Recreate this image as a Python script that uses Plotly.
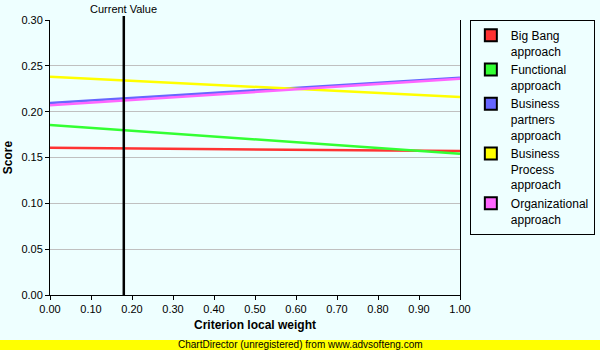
import plotly.graph_objects as go

weights = [0.0, 1.0]
series_names = ["Big Bang<br>approach", "Functional<br>approach", "Business<br>partners<br>approach",
                "Business<br>Process<br>approach", "Organizational<br>approach"]
big_bang = [0.1605, 0.1570]
functional = [0.1855, 0.1540]
business_partners = [0.2095, 0.2370]
business_process = [0.2380, 0.2160]
organizational = [0.2070, 0.2360]
colors = ["#FF3333", "#33FF33", "#6666FF", "#FFFF00", "#FF66FF"]
current_value = 0.18

all_series = [big_bang, functional, business_partners, business_process, organizational]

BG = "#EEFFFF"
fig = go.Figure()
for name, vals, c in zip(series_names, all_series, colors):
    fig.add_trace(go.Scatter(x=weights, y=vals, mode="lines", line=dict(color=c, width=2.5),
                             showlegend=False, hoverinfo="skip"))
for name, c in zip(series_names, colors):
    fig.add_trace(go.Scatter(x=[None], y=[None], mode="markers", name=name,
                             marker=dict(symbol="square", size=10, color=c,
                                         line=dict(color="black", width=1))))
fig.add_trace(go.Scatter(x=[None], y=[None], yaxis="y2", showlegend=False))

fig.add_shape(type="line", xref="x", yref="paper", x0=current_value, x1=current_value,
              y0=0, y1=1.015, line=dict(color="black", width=2.5))
fig.add_annotation(x=current_value, xref="x", y=1.04, yref="paper", text="Current Value",
                   showarrow=False, font=dict(size=11, color="black"), yanchor="middle")
fig.add_shape(type="rect", xref="paper", yref="paper", x0=-0.2, x1=1.5, y0=-0.2, y1=-0.1636,
              fillcolor="#FFFF00", line=dict(width=0), layer="above")
fig.add_annotation(x=0.6098, xref="paper", y=-0.1818, yref="paper", yanchor="middle",
                   text="ChartDirector (unregistered) from www.advsofteng.com",
                   showarrow=False, font=dict(size=10, color="black"))

fig.update_layout(
    width=600, height=350,
    margin=dict(l=50, r=140, t=20, b=55, autoexpand=False),
    paper_bgcolor=BG, plot_bgcolor=BG,
    font=dict(family="Liberation Sans, Arial, sans-serif", size=11, color="black"),
    xaxis=dict(range=[0, 1], tickvals=[i / 10 for i in range(11)], tickformat=".2f",
               showgrid=False, zeroline=False, showline=True, linecolor="black", linewidth=1,
               mirror=False, ticks="outside", ticklen=4, tickcolor="black",
               title=dict(text="<b>Criterion local weight</b>", font=dict(size=12), standoff=6)),
    yaxis=dict(range=[0, 0.30], dtick=0.05, tickformat=".2f",
               showgrid=True, gridcolor="#C0C0C0", gridwidth=1, zeroline=False,
               showline=True, linecolor="black", linewidth=1,
               ticks="outside", ticklen=4, tickcolor="black",
               title=dict(text="<b>Score</b>", font=dict(size=12), standoff=6)),
    yaxis2=dict(overlaying="y", side="right", range=[0, 0.30], showticklabels=False,
                showgrid=False, zeroline=False, showline=True, linecolor="black", linewidth=1),
    legend=dict(x=1.024, y=1.0, xanchor="left", yanchor="top", bgcolor=BG,
                bordercolor="black", borderwidth=1, font=dict(size=12), valign="top",
                tracegroupgap=0, itemsizing="constant", itemwidth=30),
)
fig.write_html("out.html")
